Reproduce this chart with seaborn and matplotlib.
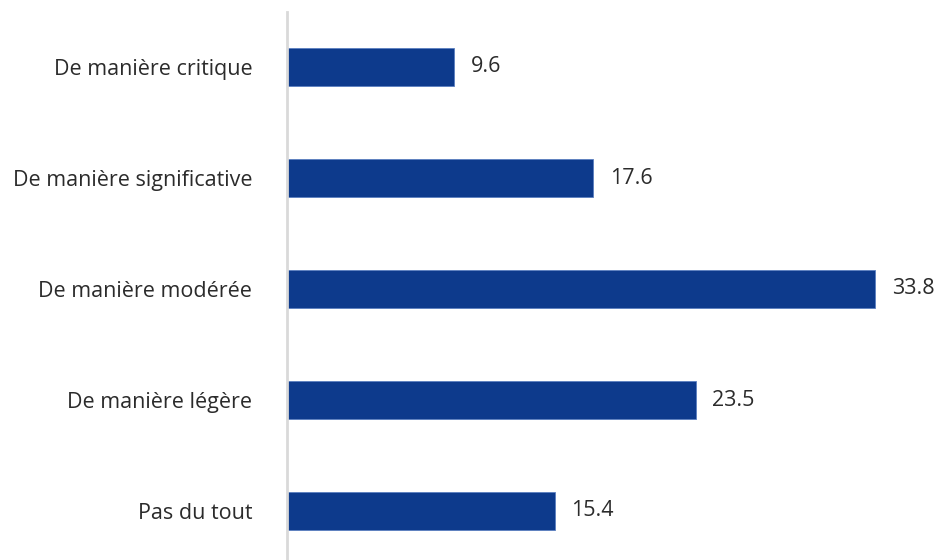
import matplotlib
matplotlib.use("Agg")
import matplotlib.pyplot as plt
import seaborn as sns
import pandas as pd

categories = [
    "De manière critique",
    "De manière significative",
    "De manière modérée",
    "De manière légère",
    "Pas du tout",
]
values = [9.6, 17.6, 33.8, 23.5, 15.4]

df = pd.DataFrame({"categorie": categories, "valeur": values})

sns.set_theme(style="white")
plt.rcParams["font.family"] = ["Open Sans", "DejaVu Sans"]

W, H = 945, 560
fig = plt.figure(figsize=(W / 100, H / 100), dpi=100)

# axes frame in pixel units: left edge at the zero line, rows 111 px apart
left_px, top_px, bottom_px = 287, 11.5, 566.5
ax = fig.add_axes([left_px / W, (H - bottom_px) / H,
                   (W - left_px) / W, (bottom_px - top_px) / H])

sns.barplot(data=df, y="categorie", x="valeur", orient="h",
            color="#0D3A8C", saturation=1, width=0.35,
            edgecolor="#5B7FC0", linewidth=0.6, ax=ax)

ax.set_xlim(0, (W - left_px) / 17.4)
ax.set_ylim(len(categories) - 0.5, -0.5)

for i, v in enumerate(values):
    ax.text(v + 0.95, i, f"{v:.1f}", va="center", ha="left",
            fontsize=15.5, color="#2B2B2B")

ax.set_xlabel("")
ax.set_ylabel("")
ax.set_xticks([])
ax.tick_params(axis="y", length=0, pad=25, labelsize=15.5, labelcolor="#2B2B2B")
for s in ["top", "right", "bottom"]:
    ax.spines[s].set_visible(False)
ax.spines["left"].set_color("#D9D9D9")
ax.spines["left"].set_linewidth(2)

fig.savefig("out.png", dpi=100)
